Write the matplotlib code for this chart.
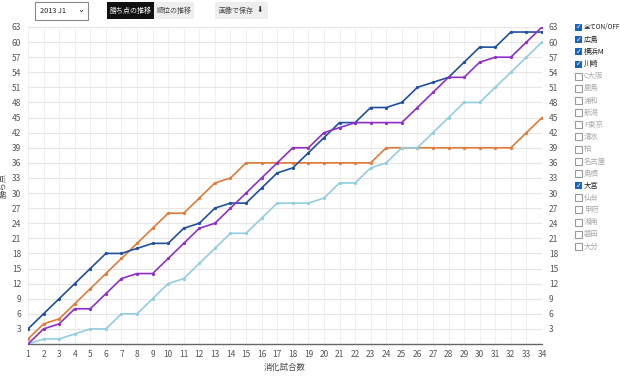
import matplotlib
matplotlib.use("Agg")
import matplotlib.pyplot as plt
from matplotlib.patches import Rectangle

plt.rcParams['font.family'] = ['Noto Sans CJK JP', 'DejaVu Sans']

matches = list(range(1, 35))
hiroshima = [0, 3, 4, 7, 7, 10, 13, 14, 14, 17, 20, 23, 24, 27, 30, 33, 36, 39, 39, 42, 43, 44, 44, 44, 44, 47, 50, 53, 53, 56, 57, 57, 60, 63]
yokohama = [3, 6, 9, 12, 15, 18, 18, 19, 20, 20, 23, 24, 27, 28, 28, 31, 34, 35, 38, 41, 44, 44, 47, 47, 48, 51, 52, 53, 56, 59, 59, 62, 62, 62]
kawasaki = [0, 1, 1, 2, 3, 3, 6, 6, 9, 12, 13, 16, 19, 22, 22, 25, 28, 28, 28, 29, 32, 32, 35, 36, 39, 39, 42, 45, 48, 48, 51, 54, 57, 60]
omiya = [1, 4, 5, 8, 11, 14, 17, 20, 23, 26, 26, 29, 32, 33, 36, 36, 36, 36, 36, 36, 36, 36, 36, 39, 39, 39, 39, 39, 39, 39, 39, 39, 42, 45]
yticks = list(range(3, 64, 3))

series = [
    ("大宮", omiya, "#e07b39"),
    ("川崎", kawasaki, "#93cde0"),
    ("横浜M", yokohama, "#1f4f9e"),
    ("広島", hiroshima, "#8f2fc8"),
]

legend_items = ["全てON/OFF", "広島", "横浜M", "川崎", "C大阪", "鹿島", "浦和", "新潟", "F東京",
                "清水", "柏", "名古屋", "鳥栖", "大宮", "仙台", "甲府", "湘南", "磐田", "大分"]
legend_checked = ["全てON/OFF", "広島", "横浜M", "川崎", "大宮"]

W, H = 620, 378
fig = plt.figure(figsize=(W / 100, H / 100), dpi=100)
ax = fig.add_axes([28 / W, 1 - 344 / H, (542 - 28) / W, (344 - 27) / H])

for name, vals, col in series:
    ax.plot(matches, vals, color=col, lw=1.2, marker='o', ms=1.3, zorder=3)

ax.set_xlim(1, 34)
ax.set_ylim(0, 63)
ax.set_xticks(matches)
ax.set_yticks(yticks)
ax.grid(True, axis='y', color='#e6e6e6', lw=0.8)
ax.grid(True, axis='x', color='#f0f0f0', lw=0.7)
ax.set_axisbelow(True)
for s in ['top', 'right', 'left']:
    ax.spines[s].set_visible(False)
ax.spines['bottom'].set_color('#666666')
ax.spines['bottom'].set_linewidth(1.0)
ax.tick_params(axis='both', length=0, labelsize=6, colors='#555555')
ax.tick_params(axis='x', pad=4)
ax.tick_params(axis='y', pad=5, labelright=True, right=False)
ax.set_xlabel("消化試合数", fontsize=6, color='#444444', labelpad=3)
ax.set_ylabel("勝ち点", fontsize=6, color='#444444')
ax.yaxis.set_label_coords((8 - 28) / 514, 0.5)

# top UI controls
def box(x0, y0, w, h, fc, ec='none'):
    fig.patches.append(Rectangle((x0 / W, 1 - (y0 + h) / H), w / W, h / H,
                                 transform=fig.transFigure, fc=fc, ec=ec, lw=0.8))

box(35, 2, 53, 18, 'white', '#888888')
fig.text(40 / W, 1 - 11 / H, "2013 J1", fontsize=5.3, va='center', color='#222222')
fig.text(81 / W, 1 - 10 / H, "⌄", fontsize=6, va='center', ha='center', color='#222222', family='DejaVu Sans')
box(107, 2, 47, 17, '#111111')
fig.text(130.5 / W, 1 - 10.5 / H, "勝ち点の推移", fontsize=5, va='center', ha='center', color='white')
box(154, 2, 40, 17, '#eeeeee')
fig.text(174 / W, 1 - 10.5 / H, "順位の推移", fontsize=5, va='center', ha='center', color='#444444')
box(215, 2, 53, 17, '#eeeeee')
fig.text(236 / W, 1 - 10.5 / H, "画像で保存", fontsize=5, va='center', ha='center', color='#444444')
fig.text(260 / W, 1 - 10.5 / H, "⬇", fontsize=5.5, va='center', ha='center', color='#333333', family='DejaVu Sans')

# legend checkboxes
y0 = 27.5
dy = (246.5 - 27.5) / 18
for i, name in enumerate(legend_items):
    yc = y0 + i * dy
    checked = name in legend_checked
    if checked:
        box(575, yc - 3.5, 7, 7, '#1565c0')
        fig.text(578.5 / W, 1 - yc / H, "✓", fontsize=5, va='center', ha='center',
                 color='white', family='DejaVu Sans', fontweight='bold')
        tc = '#222222'
    else:
        box(575, yc - 3.5, 7, 7, 'white', '#999999')
        tc = '#aaaaaa'
    fs = 4.6 if i == 0 else 5.3
    fig.text(584 / W, 1 - yc / H, name, fontsize=fs, va='center', ha='left', color=tc)

fig.savefig("out.png", dpi=100)
